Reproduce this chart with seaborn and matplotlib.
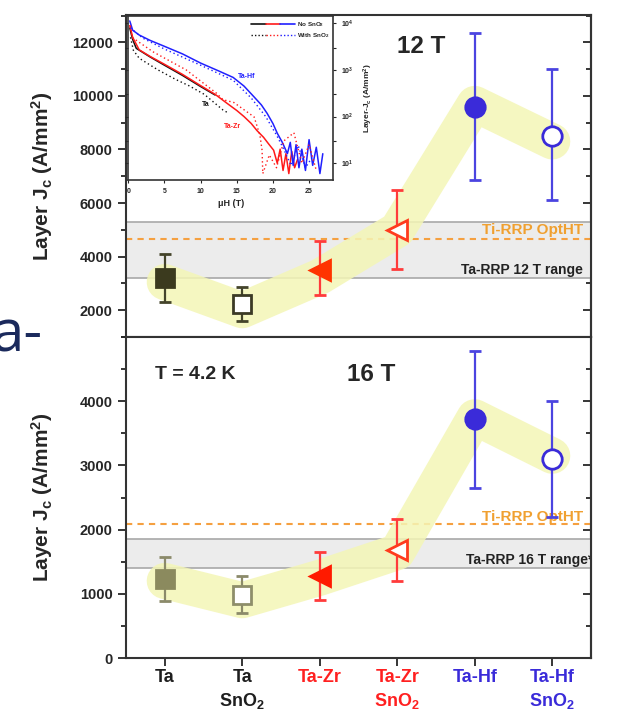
import numpy as np
import pandas as pd
import matplotlib
matplotlib.use("Agg")
import matplotlib.pyplot as plt
import seaborn as sns
from matplotlib.lines import Line2D
from matplotlib.legend_handler import HandlerTuple
from matplotlib.ticker import MultipleLocator, FixedLocator, NullFormatter

# ---------------- data ----------------
categories = ["Ta", "Ta\nSnO$_2$", "Ta-Zr", "Ta-Zr\nSnO$_2$", "Ta-Hf", "Ta-Hf\nSnO$_2$"]
cat_colors = ["#1e1e1e", "#1e1e1e", "#ff2020", "#ff2020", "#3a2bd9", "#3a2bd9"]

jc12 = [3200, 2250, 3500, 5000, 9600, 8500]
jc12_lo = [2300, 1600, 2550, 3550, 6850, 6100]
jc12_hi = [4100, 2850, 4600, 6500, 12350, 11000]
band12 = [3050, 2000, 3250, 5000, 9700, 8300]
range12 = [3200, 5280]
opt12 = 4660
yticks12 = [2000, 4000, 6000, 8000, 10000, 12000]

jc16 = [1230, 980, 1270, 1680, 3720, 3100]
jc16_lo = [890, 700, 900, 1200, 2650, 2200]
jc16_hi = [1580, 1270, 1650, 2170, 4780, 4000]
band16 = [1200, 900, 1250, 1650, 3750, 3150]
range16 = [1400, 1850]
opt16 = 2080
yticks16 = [0, 1000, 2000, 3000, 4000]

# inset: layer Jc (A/mm^2) vs field (T)
hf_H = [0.2, 0.6, 1.5, 3.0, 5.0, 7.5, 10.0, 12.5, 14.5, 16.0, 17.4, 18.4, 19.2, 20.0, 20.6,
        21.3, 22.0, 22.4, 22.8, 23.2, 23.6, 24.0, 24.5, 25.0, 25.5, 26.0, 26.5, 26.9]
hf_J = [11200, 7100, 5600, 4300, 3200, 2200, 1400, 950, 690, 450, 263, 178, 117, 71, 44,
        28, 16, 28, 9, 25, 8, 20, 7, 32, 9, 22, 6, 16]
zr_H = [0.2, 0.6, 1.5, 3.0, 5.0, 7.5, 10.0, 12.0, 13.6, 15.0, 16.0, 17.0, 17.8, 18.7, 19.4,
        20.1, 20.6, 21.0, 21.4, 21.8, 22.2, 22.6, 23.0, 23.4]
zr_J = [8900, 5000, 2700, 1950, 1320, 800, 460, 300, 195, 135, 100, 71, 50, 36, 26,
        19, 10, 20, 7, 16, 6, 18, 8, 12]
ta_H = [0.2, 0.6, 1.1, 3.0, 5.0, 7.5, 10.0, 12.0]
ta_J = [7900, 4500, 2900, 1900, 1260, 760, 440, 290]
taS_H = [0.3, 0.7, 1.5, 4.1, 6.6, 8.4, 10.5, 13.1, 13.8]
taS_J = [5000, 2630, 1780, 1000, 620, 457, 300, 138, 120]
zrS_H = [0.3, 0.5, 3.4, 8.0, 12.2, 13.1, 14.6, 16.0, 17.4, 18.2, 18.5, 18.6, 19.5, 20.5, 21.5, 22.9, 24.0, 25.0, 26.0]
zrS_J = [9000, 5000, 2450, 1000, 316, 230, 200, 140, 98, 40, 19, 6, 15, 8, 30, 45, 10, 25, 7]
hfS_H = [0.3, 2.0, 5.0, 10.0, 14.5, 17.0, 19.0, 20.5, 21.5, 22.5, 23.5, 24.5, 25.5]
hfS_J = [7900, 4800, 2800, 1260, 600, 250, 100, 40, 20, 9, 24, 8, 14]

# ---------------- style ----------------
sns.set_style("ticks")
plt.rcParams["font.family"] = ["Liberation Sans", "DejaVu Sans"]
plt.rcParams["font.weight"] = "bold"
plt.rcParams["mathtext.default"] = "regular"
plt.rcParams["axes.linewidth"] = 1.5
plt.rcParams["axes.edgecolor"] = "#333333"

W, H = 631, 711
fig = plt.figure(figsize=(W / 100, H / 100), dpi=100)

def fbox(x0, y0, x1, y1):
    return [x0 / W, 1 - y1 / H, (x1 - x0) / W, (y1 - y0) / H]

ax1 = fig.add_axes(fbox(126, 15, 591, 337))
ax2 = fig.add_axes(fbox(126, 337, 591, 658))

xpos = np.arange(len(categories))
markers = ["s", "s", "<", "<", "o", "o"]
filled = [True, False, True, False, True, False]
msizes = [13, 13, 15, 15, 14, 14]


def draw_panel(ax, jc, lo, hi, band, rng, opt, main_cols, err_cols, band_lw, opt_y,
               rng_label, rng_y, rng_x, yticks, minor_step):
    ax.axhspan(rng[0], rng[1], color="#ececec", zorder=0.5, lw=0)
    ax.axhline(rng[0], color="#a8a8a8", lw=1.2, zorder=0.6)
    ax.axhline(rng[1], color="#a8a8a8", lw=1.2, zorder=0.6)
    ax.axhline(opt, color="#f5a040", lw=1.5, ls=(0, (3, 2.5)), zorder=0.7)
    sns.lineplot(x=xpos, y=band, ax=ax, color="#f4f6b6", alpha=0.85, lw=band_lw,
                 solid_capstyle="round", solid_joinstyle="round", zorder=1)
    for i in range(len(categories)):
        mfc = main_cols[i] if filled[i] else "white"
        ax.errorbar(xpos[i], jc[i], yerr=[[jc[i] - lo[i]], [hi[i] - jc[i]]],
                    fmt=markers[i], ms=msizes[i], mfc=mfc, mec=main_cols[i], mew=2.0,
                    ecolor=err_cols[i], elinewidth=1.6, capsize=4.5, capthick=1.6, zorder=3)
    ax.text(5.40, opt_y, "Ti-RRP OptHT", color="#f0a030", fontsize=11, fontweight="bold",
            ha="right", va="center", zorder=2)
    ax.text(rng_x, rng_y, rng_label, color="#222222", fontsize=10, fontweight="bold",
            ha="right", va="center", zorder=2, clip_on=True)
    ax.set_xlim(-0.5, 5.5)
    ax.set_xticks(xpos)
    ax.yaxis.set_major_locator(FixedLocator(yticks))
    ax.yaxis.set_minor_locator(MultipleLocator(minor_step))
    ax.tick_params(axis="both", which="both", width=1.3, labelsize=10.5, direction="out")
    ax.tick_params(axis="y", which="both", left=True, right=False)
    ax.tick_params(axis="both", which="major", length=6)
    ax.tick_params(axis="y", which="minor", length=3.5)
    # mirrored ticks on the right, pointing inward
    sec = ax.secondary_yaxis("right")
    sec.yaxis.set_major_locator(FixedLocator(yticks))
    sec.yaxis.set_minor_locator(MultipleLocator(minor_step))
    sec.tick_params(axis="y", which="both", direction="in", labelright=False, width=1.3)
    sec.tick_params(axis="y", which="major", length=6)
    sec.tick_params(axis="y", which="minor", length=3.5)
    sec.spines["right"].set_linewidth(1.5)
    sec.spines["right"].set_color("#333333")
    for s in ax.spines.values():
        s.set_visible(True)
        s.set_linewidth(1.5)
        s.set_color("#333333")
    ax.set_ylabel("Layer J$_c$ (A/mm$^2$)", fontsize=15, fontweight="bold")
    ax.yaxis.set_label_coords(-0.153, 0.5)


top_main = ["#3b3a1e", "#3b3a25", "#ff3300", "#ff3b1e", "#3a2bd9", "#3a2bd9"]
top_err = ["#44442a", "#44442a", "#ff3b3b", "#ff3b3b", "#4b44e0", "#4b44e0"]
bot_main = ["#8b8a5e", "#8e8e6a", "#ff1a00", "#ff3b1e", "#3a2bd9", "#3a2bd9"]
bot_err = ["#8b8a6a", "#8b8a6a", "#ff3b3b", "#ff3b3b", "#4b44e0", "#4b44e0"]

ax1.set_ylim(1000, 13020)
draw_panel(ax1, jc12, jc12_lo, jc12_hi, band12, range12, opt12, top_main, top_err, 26,
           4990, "Ta-RRP 12 T range", 3500, 5.40, yticks12, 1000)
ax1.tick_params(axis="x", which="both", bottom=True, top=False, labelbottom=False)
ax1.text(3.31, 11840, "12 T", fontsize=17.5, fontweight="bold", ha="center", va="center")

ax2.set_ylim(0, 5000)
draw_panel(ax2, jc16, jc16_lo, jc16_hi, band16, range16, opt16, bot_main, bot_err, 26,
           2190, "Ta-RRP 16 T range*", 1530, 5.53, yticks16, 500)
ax2.tick_params(axis="x", which="both", bottom=True, top=False, pad=2)
ax2.set_xticklabels(categories, fontsize=13, fontweight="bold", linespacing=1.3)
for lab, c in zip(ax2.get_xticklabels(), cat_colors):
    lab.set_color(c)
ax2.text(2.66, 4420, "16 T", fontsize=17.5, fontweight="bold", ha="center", va="center")
ax2.text(0.39, 4420, "T = 4.2 K", fontsize=14, fontweight="bold", ha="center", va="center")

# ---------------- inset ----------------
ins = ax1.inset_axes([0.005, 0.488, 0.44, 0.508])
ins.set_facecolor("white")
ins.set_zorder(5)
sns.lineplot(x=ta_H, y=ta_J, ax=ins, color="#111111", lw=1.1)
sns.lineplot(x=zr_H, y=zr_J, ax=ins, color="#ff1a1a", lw=1.1)
sns.lineplot(x=hf_H, y=hf_J, ax=ins, color="#2020ff", lw=1.1)
sns.lineplot(x=taS_H, y=taS_J, ax=ins, color="#111111", lw=1.0, ls=(0, (1, 2)))
sns.lineplot(x=zrS_H, y=zrS_J, ax=ins, color="#ff1a1a", lw=1.0, ls=(0, (1, 2)))
sns.lineplot(x=hfS_H, y=hfS_J, ax=ins, color="#2020ff", lw=1.0, ls=(0, (1, 2)))
ins.set_yscale("log")
ins.set_xlim(0, 28.3)
ins.set_ylim(4.4, 14100)
ins.set_xticks([0, 5, 10, 15, 20, 25])
ins.yaxis.set_major_locator(FixedLocator([10, 100, 1000, 10000]))
ins.yaxis.set_minor_locator(FixedLocator([30, 300, 3000]))
ins.yaxis.set_minor_formatter(NullFormatter())
ins.tick_params(axis="both", which="both", direction="out", labelsize=5, width=0.8, length=2)
ins.tick_params(axis="y", which="both", left=True, right=True, labelleft=False, labelright=True)
for s in ins.spines.values():
    s.set_visible(True)
    s.set_linewidth(1.2)
    s.set_color("#333333")
ins.set_xlabel("\u03bcH (T)", fontsize=6.5, fontweight="bold", labelpad=3)
ins.yaxis.set_label_position("right")
ins.set_ylabel("Layer-J$_c$ (A/mm$^2$)", fontsize=6, fontweight="bold", labelpad=6)
ins.text(16.4, 720, "Ta-Hf", color="#2020ff", fontsize=5, ha="center", va="center")
ins.text(10.7, 178, "Ta", color="#111111", fontsize=5, ha="center", va="center")
ins.text(14.4, 61, "Ta-Zr", color="#ff1a1a", fontsize=5, ha="center", va="center")
h_no = tuple(Line2D([], [], color=c, lw=1.2) for c in ["#111111", "#ff1a1a", "#2020ff"])
h_with = tuple(Line2D([], [], color=c, lw=1.0, ls=(0, (1, 1.5))) for c in ["#111111", "#ff1a1a", "#2020ff"])
ins.legend([h_no, h_with], ["No SnO$_2$", "With SnO$_2$"], loc="upper right", fontsize=4.5,
           frameon=False, handlelength=7, handletextpad=0.3, borderaxespad=0.2, labelspacing=0.3,
           handler_map={tuple: HandlerTuple(ndivide=None, pad=0)})

# slide fragment at left
fig.text(42 / W, 1 - 352 / H, "a-", color="#1b2a5c", fontsize=42, fontweight="normal",
         ha="right", va="baseline", family=["Open Sans", "DejaVu Sans"])

fig.savefig("out.png", dpi=100)
